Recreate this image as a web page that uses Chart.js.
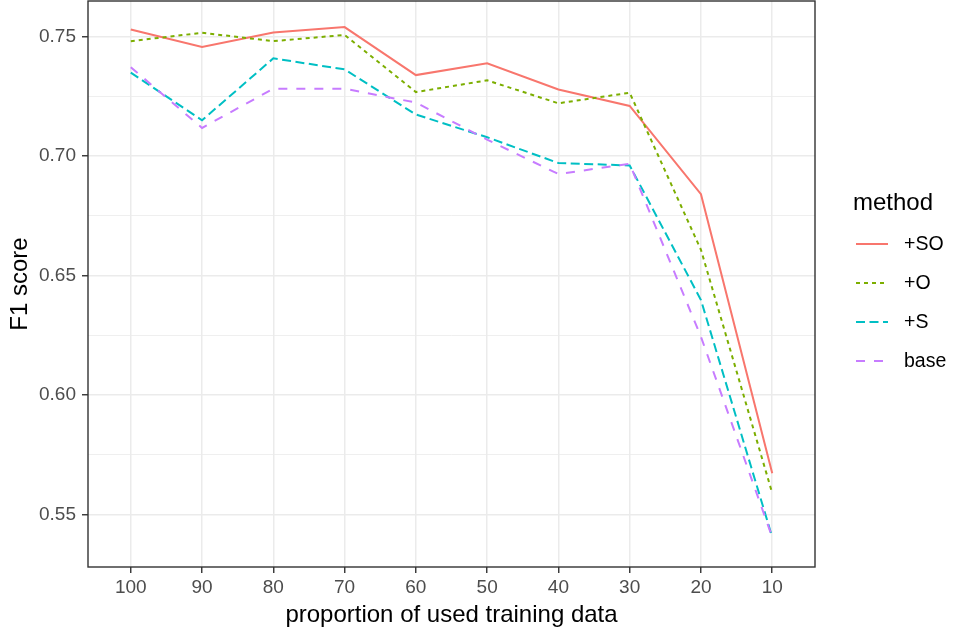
<!DOCTYPE html>
<html>
<head>
<meta charset="utf-8">
<script src="https://cdn.jsdelivr.net/npm/chart.js@4/dist/chart.umd.min.js"></script>
<style>
    body { margin: 0; background: #fff; }
    #wrap { width: 954px; height: 631px; }
</style>
</head>
<body>
<div id="wrap"><canvas id="f1Chart" width="954" height="631"></canvas></div>
<script>
// Data
const categories = ['100', '90', '80', '70', '60', '50', '40', '30', '20', '10'];
const methods = ['+SO', '+O', '+S', 'base'];
const soValues = [0.7529, 0.7456, 0.7516, 0.7539, 0.7338, 0.7387, 0.7278, 0.7209, 0.6840, 0.5672];
const oValues = [0.7480, 0.7515, 0.7480, 0.7506, 0.7267, 0.7316, 0.7220, 0.7264, 0.6607, 0.5589];
const sValues = [0.7348, 0.7149, 0.7408, 0.7362, 0.7173, 0.7078, 0.6970, 0.6960, 0.6397, 0.5405];
const baseValues = [0.7371, 0.7117, 0.7281, 0.7281, 0.7223, 0.7068, 0.6924, 0.6967, 0.6243, 0.5405];
const yTicks = [0.55, 0.60, 0.65, 0.70, 0.75];

const seriesValues = [soValues, oValues, sValues, baseValues];
const colors = ['#F8766D', '#7CAE00', '#00BFC4', '#C77CFF'];
const dashes = [[], [4, 4], [9, 4.5], [9, 9]];

const FONT = '"Liberation Sans", Arial, Helvetica, sans-serif';
Chart.defaults.font.family = FONT;

const isMajor = v => yTicks.some(t => Math.abs(t - v) < 1e-6);

// Panel border on top of the lines
const panelBorder = {
    id: 'panelBorder',
    afterDatasetsDraw(chart) {
        const { ctx, chartArea: a } = chart;
        ctx.save();
        ctx.strokeStyle = '#333333';
        ctx.lineWidth = 1.4;
        ctx.strokeRect(a.left, a.top, a.right - a.left, a.bottom - a.top);
        ctx.restore();
    }
};

// ggplot-like legend on the right
const sideLegend = {
    id: 'sideLegend',
    afterDraw(chart) {
        const { ctx, chartArea: a } = chart;
        const mid = (a.top + a.bottom) / 2;
        const x0 = a.right + 38;
        ctx.save();
        ctx.textAlign = 'left';
        ctx.textBaseline = 'middle';
        ctx.fillStyle = '#000';
        ctx.font = '24px ' + FONT;
        ctx.fillText('method', x0, mid - 81);
        chart.data.datasets.forEach((ds, i) => {
            const y = mid - 40 + i * 39;
            ctx.strokeStyle = ds.borderColor;
            ctx.lineWidth = ds.borderWidth;
            ctx.setLineDash(ds.borderDash);
            ctx.beginPath();
            ctx.moveTo(x0 + 3, y);
            ctx.lineTo(x0 + 35, y);
            ctx.stroke();
            ctx.setLineDash([]);
            ctx.font = '19.5px ' + FONT;
            ctx.fillText(ds.label, x0 + 51, y + 1);
        });
        ctx.restore();
    }
};

const datasets = methods.map((m, i) => ({
    label: m,
    data: seriesValues[i].map((v, j) => ({ x: j, y: v })),
    borderColor: colors[i],
    backgroundColor: colors[i],
    borderWidth: 2,
    borderDash: dashes[i],
    borderCapStyle: 'butt',
    pointRadius: 0,
    tension: 0,
    fill: false,
    order: methods.length - i
}));

new Chart(document.getElementById('f1Chart'), {
    type: 'line',
    data: { datasets },
    plugins: [panelBorder, sideLegend],
    options: {
        responsive: false,
        animation: false,
        devicePixelRatio: 1,
        layout: { padding: { top: 1, right: 139, left: 0, bottom: 0 } },
        plugins: {
            legend: { display: false },
            tooltip: { enabled: false }
        },
        scales: {
            x: {
                type: 'linear',
                min: -0.6,
                max: categories.length - 1 + 0.6,
                afterFit: s => { s.height = 64; s.paddingLeft = 0; s.paddingRight = 0; },
                afterBuildTicks: s => { s.ticks = categories.map((c, i) => ({ value: i })); },
                ticks: {
                    stepSize: 1,
                    includeBounds: false,
                    autoSkip: false,
                    maxRotation: 0,
                    padding: 3,
                    color: '#4D4D4D',
                    font: { size: 19 },
                    callback: v => categories[v]
                },
                grid: {
                    color: '#EBEBEB',
                    lineWidth: 1.5,
                    tickColor: '#333333',
                    tickLength: 6,
                    tickWidth: 1.4
                },
                border: { display: false },
                title: {
                    display: true,
                    text: 'proportion of used training data',
                    color: '#000',
                    font: { size: 24 },
                    padding: { top: 0, bottom: 1 }
                }
            },
            y: {
                min: 0.528,
                max: 0.7648,
                afterFit: s => { s.width = 88; s.paddingTop = 0; s.paddingBottom = 0; },
                ticks: {
                    stepSize: 0.025,
                    includeBounds: false,
                    padding: 6,
                    color: '#4D4D4D',
                    font: { size: 19 },
                    callback: v => isMajor(v) ? v.toFixed(2) : ''
                },
                grid: {
                    color: '#EBEBEB',
                    lineWidth: c => isMajor(c.tick.value) ? 1.5 : 0.8,
                    tickColor: c => isMajor(c.tick.value) ? '#333333' : 'rgba(0,0,0,0)',
                    tickLength: 6,
                    tickWidth: 1.4
                },
                border: { display: false },
                title: {
                    display: true,
                    text: 'F1 score',
                    color: '#000',
                    font: { size: 24 },
                    padding: { top: 6, bottom: 0 }
                }
            }
        }
    }
});
</script>
</body>
</html>
